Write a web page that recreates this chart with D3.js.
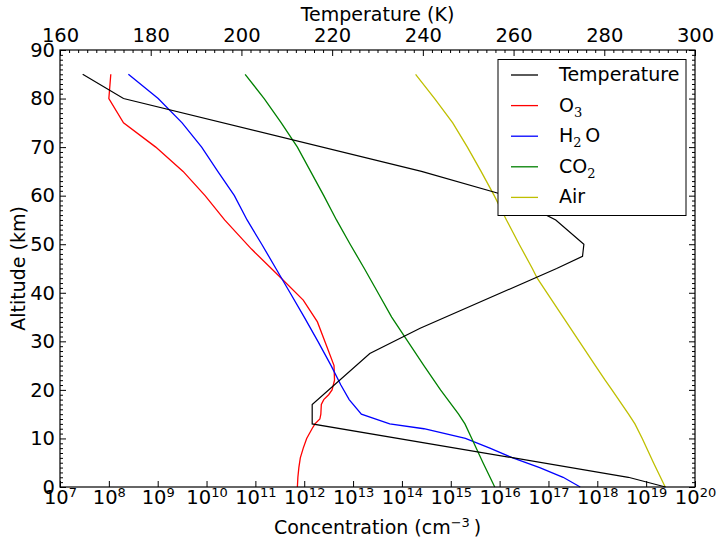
<!DOCTYPE html>
<html>
<head>
<meta charset="utf-8">
<script src="https://cdn.jsdelivr.net/npm/d3@7"></script>
<style>
  body { margin: 0; background: #fff; }
  svg { display: block; font-family: "DejaVu Sans", sans-serif; }
</style>
</head>
<body>
<div id="chart"></div>
<script>
// ----- Data
// Temperature profile, altitude in km, temperature in K
const tempAlt = [0, 2, 13, 17, 27.5, 32.7, 45, 47.5, 50, 55, 58, 60.5, 65, 80, 85];
const tempK   = [293.5, 285.3, 215.6, 215.6, 228.3, 239.4, 269.5, 275.2, 275.5, 269.3, 263, 256.6, 239.7, 174, 165];

// Species profiles, concentration given as log10(cm^-3)
const o3Alt = [0, 2, 4, 6, 8, 10, 12, 13, 14, 15, 17, 18, 19, 20, 22, 25, 29, 34, 38.5, 43, 49, 55, 60, 65, 70, 75, 80, 85];
const o3Log = [11.86, 11.87, 11.89, 11.92, 11.98, 12.05, 12.16, 12.22, 12.32, 12.34, 12.35, 12.40, 12.50, 12.57, 12.62, 12.61, 12.46, 12.27, 11.98, 11.53, 10.92, 10.37, 9.97, 9.52, 8.96, 8.30, 8.0, 8.04];

const h2oAlt = [0, 2, 4, 6, 8, 10, 12, 13, 15, 18, 21, 25, 30, 35, 40, 45, 50, 55, 60, 65, 70, 75, 80, 85];
const h2oLog = [17.65, 17.3, 16.82, 16.27, 15.8, 15.3, 14.45, 13.75, 13.17, 12.92, 12.75, 12.55, 12.28, 12.0, 11.71, 11.42, 11.13, 10.83, 10.57, 10.23, 9.9, 9.5, 9.01, 8.40];

const co2Alt = [0, 5, 10, 13, 15, 20, 25, 30, 35, 40, 45, 50, 55, 60, 65, 70, 75, 80, 85];
const co2Log = [15.9, 15.66, 15.43, 15.29, 15.16, 14.79, 14.45, 14.12, 13.79, 13.51, 13.23, 12.94, 12.66, 12.40, 12.13, 11.86, 11.53, 11.18, 10.79];

const airAlt = [0, 5, 10, 13, 15, 20, 22, 25, 30, 35, 40, 43, 45, 50, 55, 60, 65, 70, 75, 80, 85];
const airLog = [19.39, 19.15, 18.92, 18.77, 18.64, 18.30, 18.16, 17.96, 17.63, 17.30, 16.97, 16.77, 16.67, 16.40, 16.14, 15.89, 15.62, 15.34, 15.04, 14.67, 14.28];

// Axis ticks
const altTicks  = [0, 10, 20, 30, 40, 50, 60, 70, 80, 90];
const tempTicks = [160, 180, 200, 220, 240, 260, 280, 300];
const concTicks = [1e7, 1e8, 1e9, 1e10, 1e11, 1e12, 1e13, 1e14, 1e15, 1e16, 1e17, 1e18, 1e19, 1e20];

// Legend entries: [text, subscript] pieces
const legendItems = [
  { parts: [["Temperature", ""]], color: "#000000" },
  { parts: [["O", ""], ["3", "sub"]], color: "#ff0000" },
  { parts: [["H", ""], ["2", "sub"], ["\u2009O", ""]], color: "#0000ff" },
  { parts: [["CO", ""], ["2", "sub"]], color: "#008000" },
  { parts: [["Air", ""]], color: "#bfbf00" }
];

// ----- Layout
const W = 717, H = 540;
const margin = { top: 50, right: 22, bottom: 53, left: 60 };
const innerW = W - margin.left - margin.right;
const innerH = H - margin.top - margin.bottom;
const TICK_FONT = 19.5;
const FONT = 19;

const svg = d3.select("#chart")
  .append("svg")
  .attr("width", W)
  .attr("height", H);

const g = svg.append("g")
  .attr("transform", `translate(${margin.left},${margin.top})`);

// ----- Scales
const xConc = d3.scaleLog().domain([1e7, 1e20]).range([0, innerW]);
const xTemp = d3.scaleLinear().domain([160, 300]).range([0, innerW]);
const y = d3.scaleLinear().domain([0, 90]).range([innerH, 0]);

// ----- Lines
const concLine = d3.line()
  .x(d => xConc(Math.pow(10, d[1])))
  .y(d => y(d[0]));
const tempLine = d3.line()
  .x(d => xTemp(d[1]))
  .y(d => y(d[0]));

const species = [
  { alt: o3Alt, val: o3Log, color: "#ff0000" },
  { alt: h2oAlt, val: h2oLog, color: "#0000ff" },
  { alt: co2Alt, val: co2Log, color: "#008000" },
  { alt: airAlt, val: airLog, color: "#bfbf00" }
];

species.forEach(s => {
  g.append("path")
    .datum(d3.zip(s.alt, s.val))
    .attr("d", concLine)
    .attr("fill", "none")
    .attr("stroke", s.color)
    .attr("stroke-width", 1.3);
});

g.append("path")
  .datum(d3.zip(tempAlt, tempK))
  .attr("d", tempLine)
  .attr("fill", "none")
  .attr("stroke", "#000")
  .attr("stroke-width", 1.2);

// ----- Axes (ticks point inward, like classic matplotlib)
const minorAlt = d3.range(0, 91, 1).filter(v => v % 10 !== 0);
const minorTemp = d3.range(160, 301, 2).filter(v => v % 20 !== 0);

function styleAxis(sel) {
  sel.select(".domain").remove();
  sel.selectAll(".tick line").attr("stroke", "#000").attr("stroke-width", 1);
  sel.selectAll(".tick text").attr("font-size", TICK_FONT).attr("fill", "#000");
  sel.attr("font-family", null);
}

// left
g.append("g")
  .call(d3.axisLeft(y).tickValues(altTicks).tickSize(-6).tickPadding(5))
  .call(styleAxis);
g.append("g")
  .call(d3.axisLeft(y).tickValues(minorAlt).tickSize(-3).tickFormat(() => ""))
  .call(styleAxis);

// right (ticks only)
g.append("g")
  .attr("transform", `translate(${innerW},0)`)
  .call(d3.axisRight(y).tickValues(altTicks).tickSize(-6).tickFormat(() => ""))
  .call(styleAxis);
g.append("g")
  .attr("transform", `translate(${innerW},0)`)
  .call(d3.axisRight(y).tickValues(minorAlt).tickSize(-3).tickFormat(() => ""))
  .call(styleAxis);

// top (temperature)
g.append("g")
  .call(d3.axisTop(xTemp).tickValues(tempTicks).tickSize(-6).tickPadding(8.5))
  .call(styleAxis);
g.append("g")
  .call(d3.axisTop(xTemp).tickValues(minorTemp).tickSize(-3).tickFormat(() => ""))
  .call(styleAxis);

// bottom (concentration, log) with 10^n labels
g.append("g")
  .attr("transform", `translate(0,${innerH})`)
  .call(d3.axisBottom(xConc).tickValues(concTicks).tickSize(-6))
  .call(styleAxis)
  .call(ax => {
    ax.selectAll(".tick text")
      .attr("y", 17)
      .attr("dy", null)
      .text(null)
      .each(function(d) {
        const t = d3.select(this);
        t.append("tspan").text("10");
        t.append("tspan")
          .attr("dy", -7.5)
          .attr("font-size", 13)
          .text(Math.round(Math.log10(d)));
      });
  });

// frame
g.append("rect")
  .attr("width", innerW)
  .attr("height", innerH)
  .attr("fill", "none")
  .attr("stroke", "#000")
  .attr("stroke-width", 1.2);

// ----- Axis titles
svg.append("text")
  .attr("x", margin.left + innerW / 2)
  .attr("y", 21)
  .attr("text-anchor", "middle")
  .attr("font-size", FONT)
  .text("Temperature (K)");

const xl = svg.append("text")
  .attr("x", margin.left + innerW / 2)
  .attr("y", 534)
  .attr("text-anchor", "middle")
  .attr("font-size", FONT);
xl.append("tspan").text("Concentration (cm");
xl.append("tspan").attr("dy", -7).attr("font-size", 13).text("\u22123");
xl.append("tspan").attr("dy", 7).text("\u2009)");

svg.append("text")
  .attr("transform", `translate(25,${margin.top + innerH / 2}) rotate(-90)`)
  .attr("text-anchor", "middle")
  .attr("font-size", FONT)
  .text("Altitude (km)");

// ----- Legend
const legend = svg.append("g");
legend.append("rect")
  .attr("x", 498)
  .attr("y", 59.5)
  .attr("width", 188)
  .attr("height", 156)
  .attr("fill", "#fff")
  .attr("stroke", "#000")
  .attr("stroke-width", 1);

legendItems.forEach((item, i) => {
  const ly = 75 + i * 30.6;
  legend.append("line")
    .attr("x1", 511).attr("x2", 538)
    .attr("y1", ly).attr("y2", ly)
    .attr("stroke", item.color)
    .attr("stroke-width", 1.3);
  const t = legend.append("text")
    .attr("x", 559)
    .attr("y", ly + 6)
    .attr("font-size", FONT);
  let shift = 0;
  item.parts.forEach(p => {
    const sub = p[1] === "sub";
    const ts = t.append("tspan")
      .attr("dy", (sub ? 5 : 0) - shift)
      .text(p[0]);
    if (sub) ts.attr("font-size", 13).attr("font-family", "DejaVu Serif");
    shift = sub ? 5 : 0;
  });
});
</script>
</body>
</html>
